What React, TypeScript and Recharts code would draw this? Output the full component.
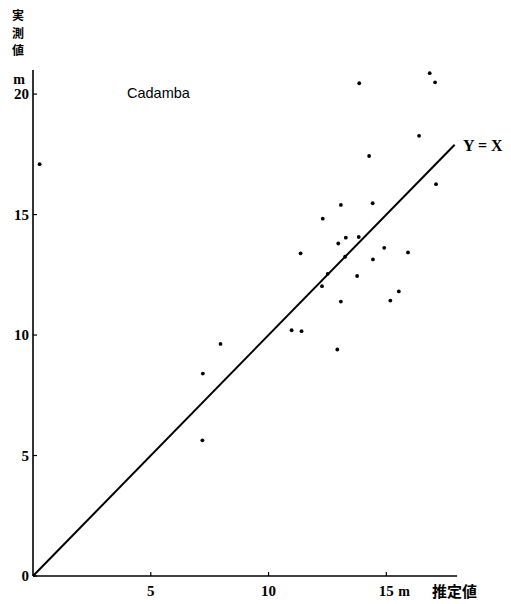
import React from 'react';
import { ScatterChart, Scatter, XAxis, YAxis, ReferenceLine } from 'recharts';

// 推定値 (estimated, m) and 実測値 (measured, m) for each tree
const estimated = [
  0.28, 16.84, 17.07, 13.85, 16.39, 14.27, 17.11, 13.07, 14.42, 12.3,
  13.28, 13.83, 12.96, 11.36, 14.91, 15.92, 13.25, 14.43, 12.51, 13.76,
  12.27, 15.53, 13.07, 15.17, 10.98, 11.4, 12.92, 7.96, 7.21, 7.19,
];
const measured = [
  17.09, 20.87, 20.49, 20.45, 18.27, 17.43, 16.26, 15.4, 15.47, 14.83,
  14.04, 14.07, 13.8, 13.39, 13.62, 13.43, 13.25, 13.14, 12.54, 12.45,
  12.03, 11.81, 11.39, 11.43, 10.2, 10.16, 9.4, 9.63, 8.4, 5.63,
];
const xTicks = [5, 10, 15];
const yTicks = [0, 5, 10, 15, 20];
const diagonalEnds = [0, 17.9];

const points = estimated.map((x, i) => ({ x, y: measured[i] }));

const numFont = '"Liberation Serif", "DejaVu Serif", serif';
const cjkFont = '"Noto Sans CJK JP", sans-serif';

const XTick = (props: any) => {
  const { x, y, payload } = props;
  return (
    <g>
      <line x1={x} y1={y} x2={x} y2={y - 4} stroke="#000" strokeWidth={1.2} />
      <text x={x} y={y + 20} textAnchor="middle" fontFamily={numFont} fontWeight="bold" fontSize={15} fill="#000">
        {payload.value}
      </text>
      {payload.value === 15 && (
        <text x={x + 12} y={y + 20} fontFamily={numFont} fontWeight="bold" fontSize={14} fill="#000">m</text>
      )}
    </g>
  );
};

const YTick = (props: any) => {
  const { x, y, payload } = props;
  return (
    <g>
      <line x1={x} y1={y} x2={x + 4} y2={y} stroke="#000" strokeWidth={1.2} />
      <text x={x - 4} y={y + 5} textAnchor="end" fontFamily={numFont} fontWeight="bold" fontSize={15} fill="#000">
        {payload.value}
      </text>
    </g>
  );
};

const Dot = (props: any) => <circle cx={props.cx} cy={props.cy} r={1.9} fill="#000" />;

const App = () => {
  return (
    <div style={{ position: 'absolute', left: 0, top: 0, width: 511, height: 604, background: '#fff' }}>
      <ScatterChart width={511} height={604} margin={{ top: 70, right: 54, bottom: 0, left: 0 }}>
        <XAxis
          type="number"
          dataKey="x"
          domain={[0, 18]}
          ticks={xTicks}
          height={28}
          tickSize={0}
          tickMargin={0}
          tickLine={false}
          tick={<XTick />}
          axisLine={{ stroke: '#000', strokeWidth: 1.6 }}
          allowDataOverflow
        />
        <YAxis
          type="number"
          dataKey="y"
          domain={[0, 21]}
          ticks={yTicks}
          width={33}
          tickSize={0}
          tickMargin={0}
          tickLine={false}
          tick={<YTick />}
          axisLine={{ stroke: '#000', strokeWidth: 1.6 }}
          allowDataOverflow
        />
        <ReferenceLine
          segment={[
            { x: diagonalEnds[0], y: diagonalEnds[0] },
            { x: diagonalEnds[1], y: diagonalEnds[1] },
          ]}
          stroke="#000"
          strokeWidth={2}
          ifOverflow="visible"
        />
        <Scatter data={points} fill="#000" shape={<Dot />} isAnimationActive={false} />
      </ScatterChart>
      <svg width={511} height={604} style={{ position: 'absolute', left: 0, top: 0, pointerEvents: 'none' }}>
        <text x={18} y={20} textAnchor="middle" fontFamily={cjkFont} fontWeight="bold" fontSize={12}>実</text>
        <text x={18} y={37.5} textAnchor="middle" fontFamily={cjkFont} fontWeight="bold" fontSize={12}>測</text>
        <text x={18} y={55} textAnchor="middle" fontFamily={cjkFont} fontWeight="bold" fontSize={12}>値</text>
        <text x={19} y={84} textAnchor="middle" fontFamily={numFont} fontWeight="bold" fontSize={14}>m</text>
        <text x={127} y={98} fontFamily='"Liberation Sans", Arial, sans-serif' fontSize={14.5}>Cadamba</text>
        <text x={463} y={151} fontFamily={numFont} fontWeight="bold" fontSize={16}>Y = X</text>
        <text x={432} y={597} fontFamily={cjkFont} fontWeight="bold" fontSize={15}>推定値</text>
      </svg>
    </div>
  );
};

export default App;
